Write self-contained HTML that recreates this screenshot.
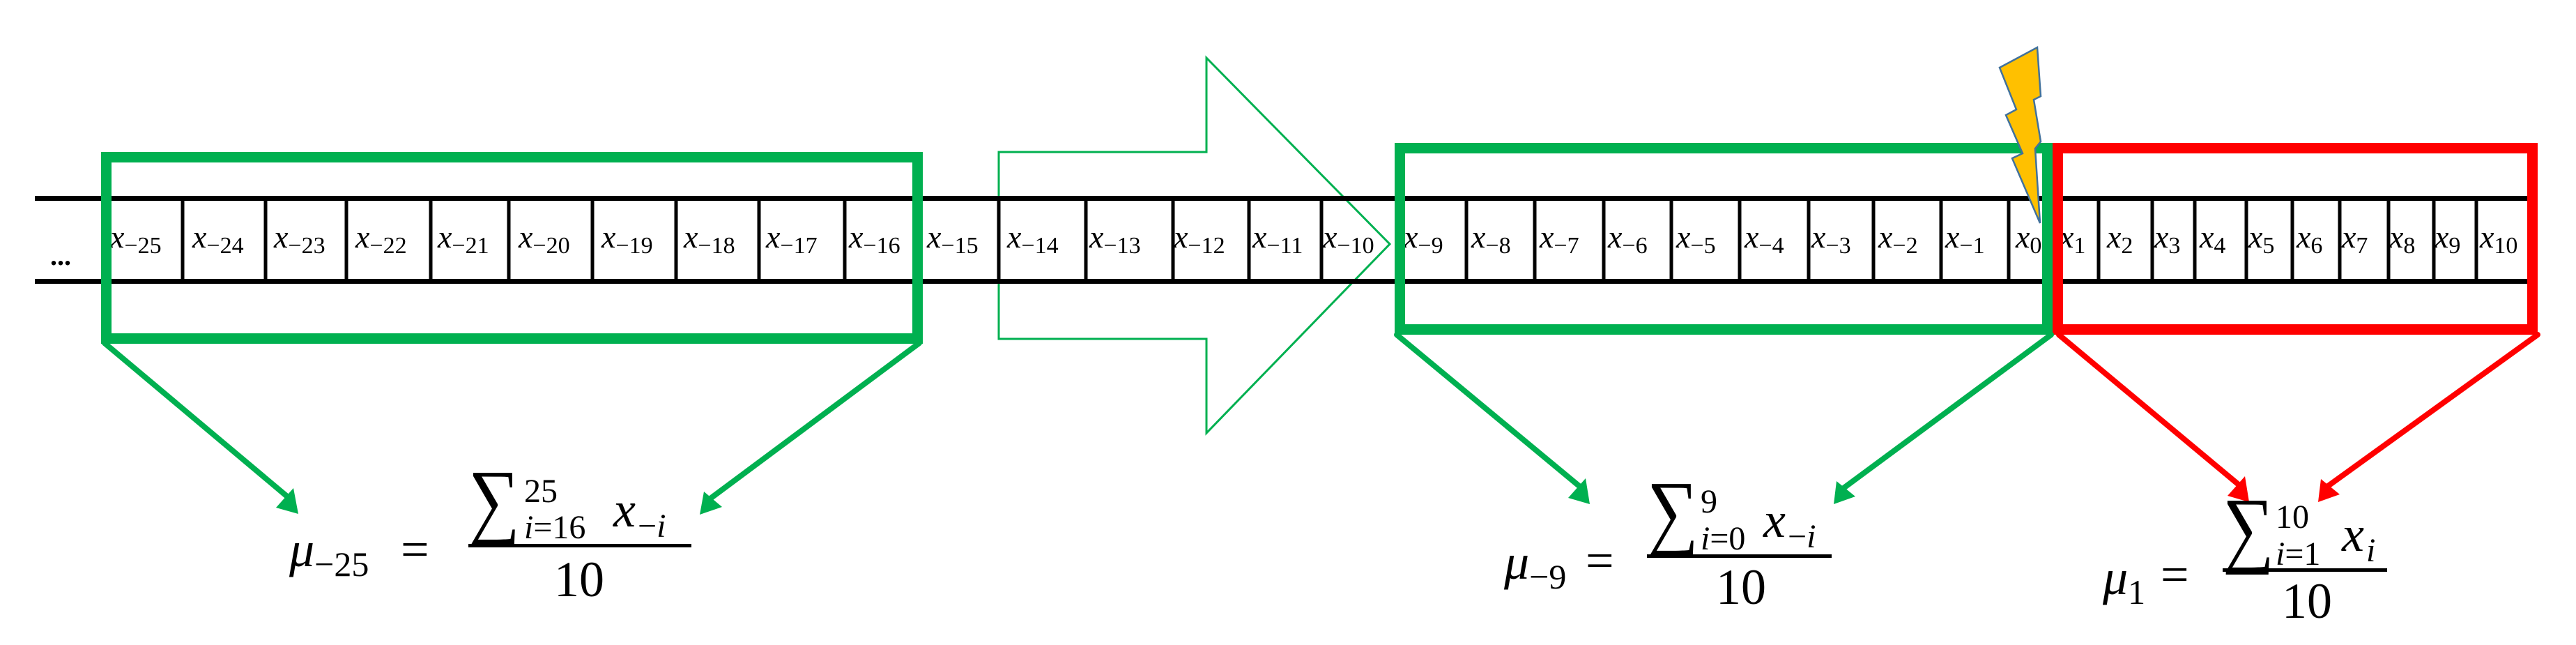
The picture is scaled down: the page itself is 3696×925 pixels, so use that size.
<!DOCTYPE html>
<html><head><meta charset="utf-8"><style>
html,body{margin:0;padding:0;background:#fff;}
svg{display:block;}
text{font-family:"Liberation Serif",serif;}
</style></head><body>
<svg width="3696" height="925" viewBox="0 0 3696 925" xmlns="http://www.w3.org/2000/svg">
<polygon points="1433,218 1731,218 1731,83 1994,350 1731,621 1731,486 1433,486" fill="none" stroke="#00b050" stroke-width="3"/>
<rect x="50" y="281" width="3591" height="7" fill="#000"/>
<rect x="50" y="400" width="3591" height="7" fill="#000"/>
<g stroke="#000" stroke-width="5">
<line x1="262" y1="288" x2="262" y2="400"/><line x1="381" y1="288" x2="381" y2="400"/>
<line x1="497" y1="288" x2="497" y2="400"/><line x1="618" y1="288" x2="618" y2="400"/>
<line x1="730" y1="288" x2="730" y2="400"/><line x1="850" y1="288" x2="850" y2="400"/>
<line x1="970" y1="288" x2="970" y2="400"/><line x1="1089" y1="288" x2="1089" y2="400"/>
<line x1="1212" y1="288" x2="1212" y2="400"/>
<line x1="1433" y1="288" x2="1433" y2="400"/><line x1="1558" y1="288" x2="1558" y2="400"/>
<line x1="1683" y1="288" x2="1683" y2="400"/><line x1="1792" y1="288" x2="1792" y2="400"/>
<line x1="1896" y1="288" x2="1896" y2="400"/>
<line x1="2104" y1="288" x2="2104" y2="400"/><line x1="2202" y1="288" x2="2202" y2="400"/>
<line x1="2301" y1="288" x2="2301" y2="400"/><line x1="2398" y1="288" x2="2398" y2="400"/>
<line x1="2496" y1="288" x2="2496" y2="400"/><line x1="2595" y1="288" x2="2595" y2="400"/>
<line x1="2688" y1="288" x2="2688" y2="400"/><line x1="2785" y1="288" x2="2785" y2="400"/>
<line x1="2882" y1="288" x2="2882" y2="400"/>
<line x1="3011" y1="288" x2="3011" y2="400"/><line x1="3088" y1="288" x2="3088" y2="400"/>
<line x1="3149" y1="288" x2="3149" y2="400"/><line x1="3223" y1="288" x2="3223" y2="400"/>
<line x1="3289" y1="288" x2="3289" y2="400"/><line x1="3357" y1="288" x2="3357" y2="400"/>
<line x1="3427" y1="288" x2="3427" y2="400"/><line x1="3492" y1="288" x2="3492" y2="400"/>
<line x1="3553" y1="288" x2="3553" y2="400"/>
</g>
<text x="72" y="380" font-size="40" font-weight="bold">...</text>
<g font-size="46">
<text x="158" y="355"><tspan font-style="italic">x</tspan><tspan font-size="34" dy="8">−25</tspan></text>
<text x="276" y="355"><tspan font-style="italic">x</tspan><tspan font-size="34" dy="8">−24</tspan></text>
<text x="393" y="355"><tspan font-style="italic">x</tspan><tspan font-size="34" dy="8">−23</tspan></text>
<text x="510" y="355"><tspan font-style="italic">x</tspan><tspan font-size="34" dy="8">−22</tspan></text>
<text x="628" y="355"><tspan font-style="italic">x</tspan><tspan font-size="34" dy="8">−21</tspan></text>
<text x="744" y="355"><tspan font-style="italic">x</tspan><tspan font-size="34" dy="8">−20</tspan></text>
<text x="863" y="355"><tspan font-style="italic">x</tspan><tspan font-size="34" dy="8">−19</tspan></text>
<text x="981" y="355"><tspan font-style="italic">x</tspan><tspan font-size="34" dy="8">−18</tspan></text>
<text x="1099" y="355"><tspan font-style="italic">x</tspan><tspan font-size="34" dy="8">−17</tspan></text>
<text x="1218" y="355"><tspan font-style="italic">x</tspan><tspan font-size="34" dy="8">−16</tspan></text>
<text x="1330" y="355"><tspan font-style="italic">x</tspan><tspan font-size="34" dy="8">−15</tspan></text>
<text x="1445" y="355"><tspan font-style="italic">x</tspan><tspan font-size="34" dy="8">−14</tspan></text>
<text x="1563" y="355"><tspan font-style="italic">x</tspan><tspan font-size="34" dy="8">−13</tspan></text>
<text x="1684" y="355"><tspan font-style="italic">x</tspan><tspan font-size="34" dy="8">−12</tspan></text>
<text x="1797" y="355"><tspan font-style="italic">x</tspan><tspan font-size="34" dy="8">−11</tspan></text>
<text x="1898" y="355"><tspan font-style="italic">x</tspan><tspan font-size="34" dy="8">−10</tspan></text>
<text x="2014" y="355"><tspan font-style="italic">x</tspan><tspan font-size="34" dy="8">−9</tspan></text>
<text x="2111" y="355"><tspan font-style="italic">x</tspan><tspan font-size="34" dy="8">−8</tspan></text>
<text x="2209" y="355"><tspan font-style="italic">x</tspan><tspan font-size="34" dy="8">−7</tspan></text>
<text x="2307" y="355"><tspan font-style="italic">x</tspan><tspan font-size="34" dy="8">−6</tspan></text>
<text x="2405" y="355"><tspan font-style="italic">x</tspan><tspan font-size="34" dy="8">−5</tspan></text>
<text x="2503" y="355"><tspan font-style="italic">x</tspan><tspan font-size="34" dy="8">−4</tspan></text>
<text x="2599" y="355"><tspan font-style="italic">x</tspan><tspan font-size="34" dy="8">−3</tspan></text>
<text x="2695" y="355"><tspan font-style="italic">x</tspan><tspan font-size="34" dy="8">−2</tspan></text>
<text x="2791" y="355"><tspan font-style="italic">x</tspan><tspan font-size="34" dy="8">−1</tspan></text>
<text x="2892" y="355"><tspan font-style="italic">x</tspan><tspan font-size="34" dy="8">0</tspan></text>
<text x="2955" y="355"><tspan font-style="italic">x</tspan><tspan font-size="34" dy="8">1</tspan></text>
<text x="3023" y="355"><tspan font-style="italic">x</tspan><tspan font-size="34" dy="8">2</tspan></text>
<text x="3091" y="355"><tspan font-style="italic">x</tspan><tspan font-size="34" dy="8">3</tspan></text>
<text x="3156" y="355"><tspan font-style="italic">x</tspan><tspan font-size="34" dy="8">4</tspan></text>
<text x="3226" y="355"><tspan font-style="italic">x</tspan><tspan font-size="34" dy="8">5</tspan></text>
<text x="3295" y="355"><tspan font-style="italic">x</tspan><tspan font-size="34" dy="8">6</tspan></text>
<text x="3360" y="355"><tspan font-style="italic">x</tspan><tspan font-size="34" dy="8">7</tspan></text>
<text x="3428" y="355"><tspan font-style="italic">x</tspan><tspan font-size="34" dy="8">8</tspan></text>
<text x="3493" y="355"><tspan font-style="italic">x</tspan><tspan font-size="34" dy="8">9</tspan></text>
<text x="3558" y="355"><tspan font-style="italic">x</tspan><tspan font-size="34" dy="8">10</tspan></text>
</g>
<rect x="152.5" y="225.5" width="1164" height="260" fill="none" stroke="#00b050" stroke-width="15"/>
<rect x="2008.5" y="212.5" width="929" height="260" fill="none" stroke="#00b050" stroke-width="15"/>
<rect x="2952.5" y="212.5" width="681" height="260" fill="none" stroke="#ff0000" stroke-width="15"/>
<polygon points="2923,68 2869,97 2893,157 2878,165 2902,220 2887,227 2927,320 2920,213 2928,203 2918,143 2928,138" fill="#ffc000" stroke="#41719c" stroke-width="2.5"/>
<g stroke-width="8" stroke-linecap="round">
<line x1="150" y1="492" x2="418" y2="717" stroke="#00b050"/>
<line x1="1319" y1="492" x2="1015" y2="718" stroke="#00b050"/>
<line x1="2004" y1="480" x2="2273" y2="703" stroke="#00b050"/>
<line x1="2943" y1="480" x2="2641" y2="703" stroke="#00b050"/>
<line x1="2954" y1="480" x2="3218" y2="700" stroke="#ff0000"/>
<line x1="3641" y1="480" x2="3336" y2="700" stroke="#ff0000"/>
</g>
<polygon points="428,737 396,728 421,700" fill="#00b050"/>
<polygon points="1004,738 1010,705 1036,727" fill="#00b050"/>
<polygon points="2281,723 2250,714 2275,686" fill="#00b050"/>
<polygon points="2631,723 2635,690 2662,712" fill="#00b050"/>
<polygon points="3227,720 3196,711 3221,683" fill="#ff0000"/>
<polygon points="3326,720 3330,687 3357,709" fill="#ff0000"/>
<g font-size="72">
<text x="415" y="812"><tspan font-style="italic">μ</tspan><tspan font-size="50" dy="14">−25</tspan></text>
<text x="575" y="812">=</text>
<text transform="translate(672,758) scale(0.85,1)" font-size="122">∑</text>
<text x="752" y="720" font-size="48">25</text>
<text x="752" y="772" font-size="48"><tspan font-style="italic">i</tspan>=16</text>
<text x="880" y="755" font-style="italic">x</text>
<text x="915" y="770" font-size="48">−<tspan font-style="italic">i</tspan></text>
<rect x="672" y="780" width="320" height="5" fill="#000"/>
<text x="795" y="855">10</text>

<text x="2158" y="830"><tspan font-style="italic">μ</tspan><tspan font-size="50" dy="14">−9</tspan></text>
<text x="2275" y="828">=</text>
<text transform="translate(2363,774) scale(0.85,1)" font-size="122">∑</text>
<text x="2440" y="735" font-size="48">9</text>
<text x="2440" y="788" font-size="48"><tspan font-style="italic">i</tspan>=0</text>
<text x="2530" y="770" font-style="italic">x</text>
<text x="2565" y="785" font-size="48">−<tspan font-style="italic">i</tspan></text>
<rect x="2363" y="795" width="265" height="5" fill="#000"/>
<text x="2462" y="866">10</text>

<text x="3017" y="852"><tspan font-style="italic">μ</tspan><tspan font-size="50" dy="14">1</tspan></text>
<text x="3100" y="848">=</text>
<text transform="translate(3189,798) scale(0.85,1)" font-size="122">∑</text>
<text x="3265" y="757" font-size="48">10</text>
<text x="3265" y="810" font-size="48"><tspan font-style="italic">i</tspan>=1</text>
<text x="3360" y="790" font-style="italic">x</text>
<text x="3395" y="805" font-size="48" font-style="italic">i</text>
<rect x="3189" y="815" width="236" height="5" fill="#000"/>
<text x="3274" y="886">10</text>
</g>
</svg>
</body></html>
